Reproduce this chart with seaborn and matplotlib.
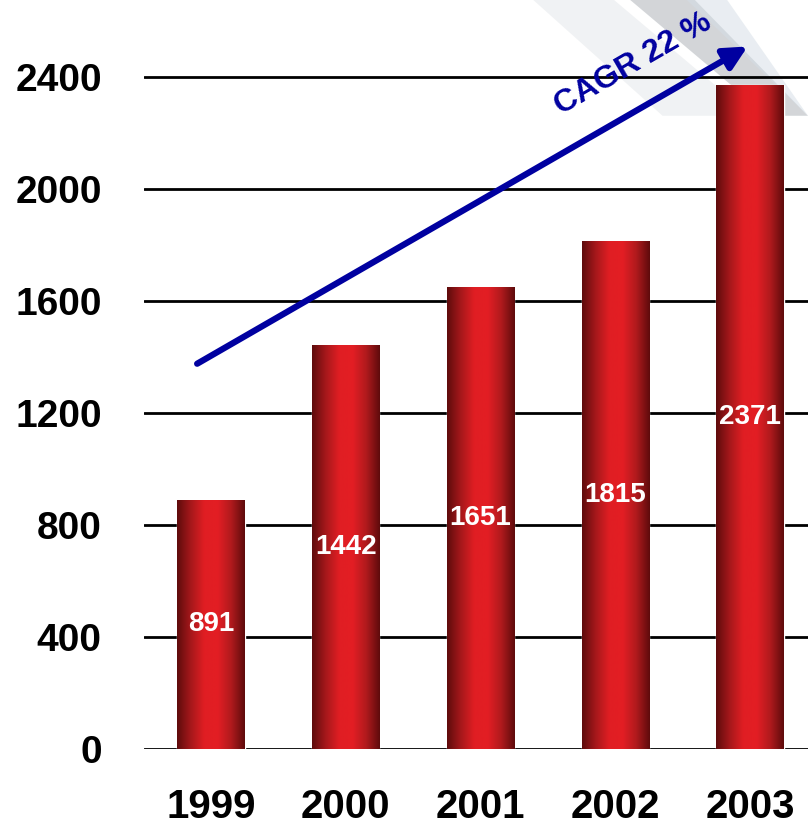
import numpy as np
import pandas as pd
import seaborn as sns
import matplotlib.pyplot as plt
from matplotlib.colors import LinearSegmentedColormap
from matplotlib.patches import Polygon

years = ['1999', '2000', '2001', '2002', '2003']
sales = [891, 1442, 1651, 1815, 2371]
yticks = [0, 400, 800, 1200, 1600, 2000, 2400]
cagr_label = 'CAGR 22 %'

df = pd.DataFrame({'year': years, 'sales': sales})

sns.set_style('white')
plt.rcParams['font.family'] = ['Liberation Sans', 'DejaVu Sans']
plt.rcParams['text.color'] = 'black'
plt.rcParams['xtick.color'] = 'black'
plt.rcParams['ytick.color'] = 'black'

fig = plt.figure(figsize=(8.08, 8.27), dpi=100)

# faint grey photo-like streaks behind the top right corner
for xs, c, a in [([0.66, 0.76, 0.93, 0.82], '#b8c0c8', 0.2),
                 ([0.78, 0.86, 1.00, 0.95], '#6e7780', 0.3),
                 ([0.85, 0.90, 1.00, 1.00], '#d4dde6', 0.5)]:
    poly = Polygon([(xs[0], 1.0), (xs[1], 1.0), (xs[2], 0.86), (xs[3], 0.86)],
                   closed=True, transform=fig.transFigure, color=c, alpha=a, lw=0, zorder=-5)
    fig.patches.append(poly)

ax = fig.add_axes([143.5 / 808, 1 - 749 / 827, (808 - 143.5) / 808, 749 / 827])
ax.patch.set_alpha(0)

sns.barplot(data=df, x='year', y='sales', color='#d01c20', width=0.5, ax=ax, zorder=3)

cmap = LinearSegmentedColormap.from_list('barred', ['#5e0b0c', '#a5181b', '#e01e23', '#e31e24', '#b01a1d', '#5e0b0c'])
grad = np.linspace(0, 1, 256).reshape(1, -1)
for bar in ax.patches:
    x0, w, h = bar.get_x(), bar.get_width(), bar.get_height()
    im = ax.imshow(grad, cmap=cmap, aspect='auto', extent=[x0, x0 + w, 0, h], zorder=4)
    im.set_clip_path(bar)

for i, v in enumerate(sales):
    ax.text(i, v / 2, str(v), ha='center', va='center', color='white',
            fontsize=20, fontweight='bold', zorder=5)

ax.set_ylim(0, 2675)
ax.set_yticks(yticks)
ax.yaxis.grid(True, color='black', lw=2, zorder=1)
ax.set_axisbelow(True)
for s in ax.spines.values():
    s.set_visible(False)
ax.tick_params(axis='both', length=0)
ax.tick_params(axis='y', pad=30, labelsize=28)
ax.tick_params(axis='x', pad=28, labelsize=29)
for lab in ax.get_xticklabels() + ax.get_yticklabels():
    lab.set_fontweight('bold')
ax.set_xlabel(None)
ax.set_ylabel(None)

# growth arrow
ax.annotate('', xy=(4.0, 2514), xytext=(-0.12, 1371),
            arrowprops=dict(arrowstyle='-|>,head_length=1.4,head_width=0.7', color='#0000a0', lw=4.5),
            zorder=6, annotation_clip=False)
ax.text(3.13, 2445, cagr_label, rotation=30, ha='center', va='center', color='#0000a0',
        fontsize=23, fontweight='bold', zorder=6)

ax.set_xlim(-0.5, 4.43)
fig.savefig('out.png', dpi=100)
